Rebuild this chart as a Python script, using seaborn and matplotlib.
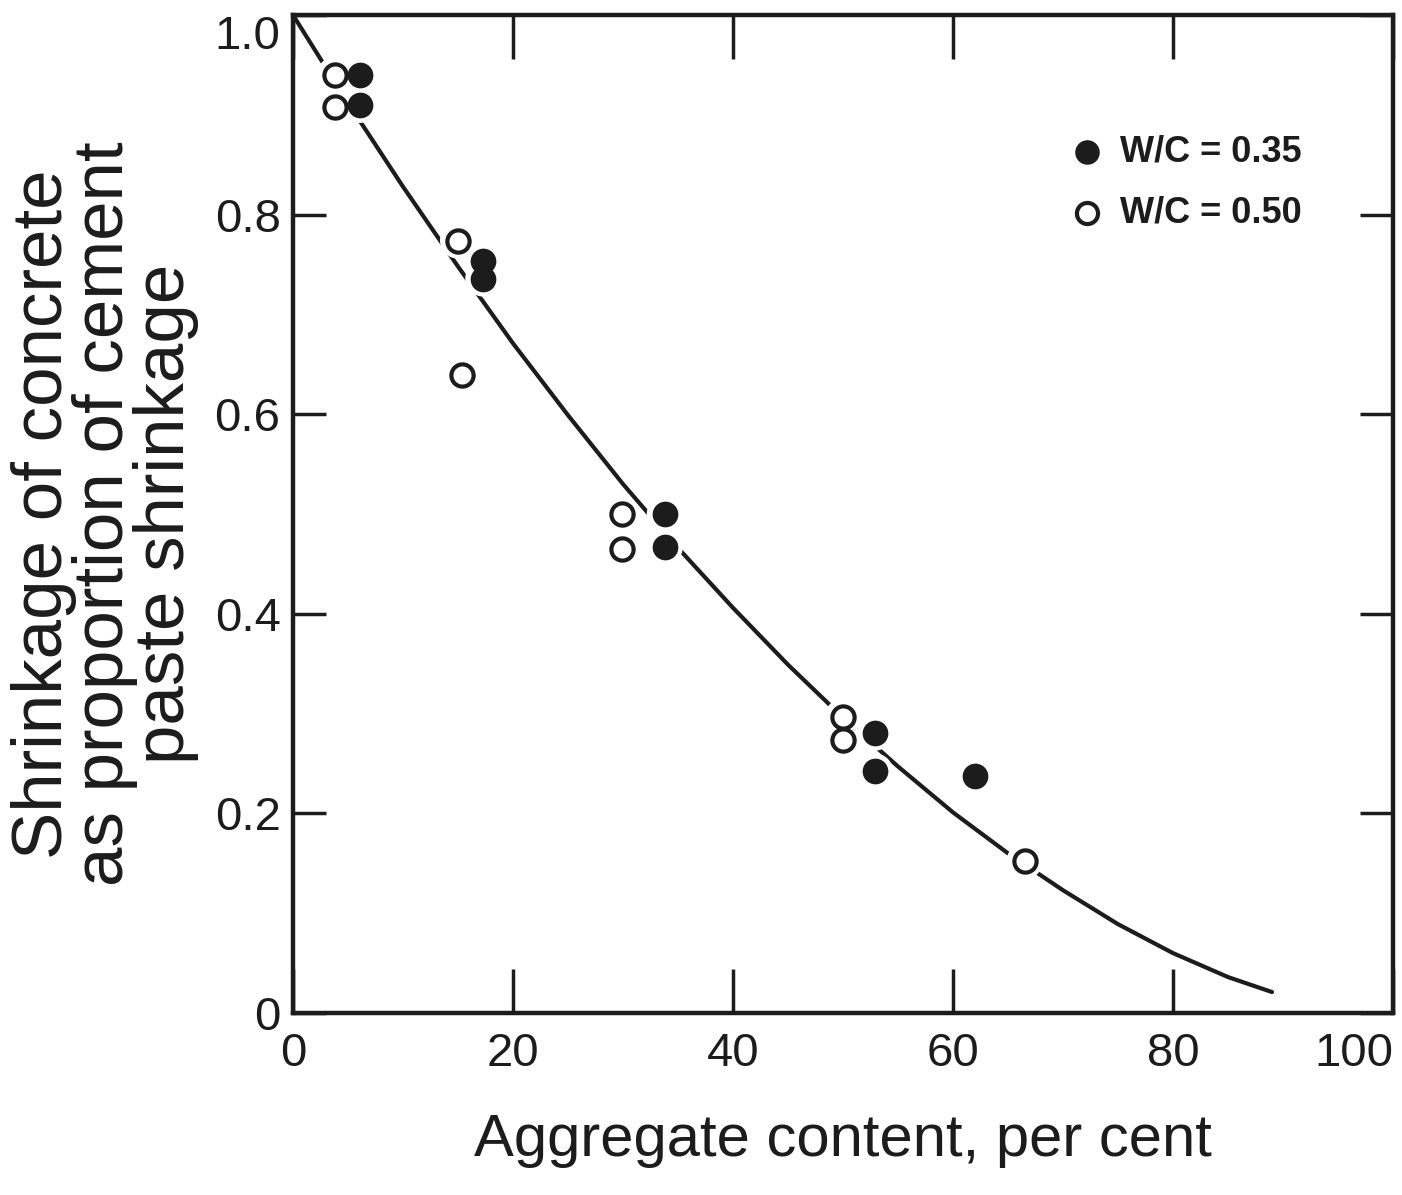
import matplotlib
matplotlib.use("Agg")
import matplotlib.pyplot as plt
import seaborn as sns
import pandas as pd

# ---------------- data ----------------
wc035_x = [6.1, 6.1, 17.3, 17.3, 33.8, 33.8, 52.9, 52.9, 62.0]
wc035_y = [0.940, 0.910, 0.754, 0.736, 0.500, 0.467, 0.281, 0.242, 0.237]
wc050_x = [3.8, 3.8, 15.0, 15.4, 29.9, 29.9, 50.0, 50.0, 66.5]
wc050_y = [0.940, 0.908, 0.774, 0.639, 0.500, 0.465, 0.297, 0.274, 0.152]

curve_x = [0, 5, 10, 15, 20, 25, 30, 35, 40, 45, 50, 55, 60, 65, 70, 75, 80, 85, 89]
curve_y = [1.0, 0.912, 0.828, 0.748, 0.671, 0.599, 0.530, 0.466, 0.406, 0.349,
           0.296, 0.247, 0.201, 0.160, 0.123, 0.089, 0.060, 0.036, 0.021]

x_ticks = [0, 20, 40, 60, 80, 100]
x_ticklabels = ["0", "20", "40", "60", "80", "100"]
y_ticks = [0, 0.2, 0.4, 0.6, 0.8, 1.0]
y_ticklabels = ["0", "0.2", "0.4", "0.6", "0.8", "1.0"]

legend_labels = ["W/C = 0.35", "W/C = 0.50"]
x_label = "Aggregate content, per cent"
y_label = "Shrinkage of concrete\nas proportion of cement\npaste shrinkage"

# ---------------- style ----------------
sns.set_theme(style="ticks")
plt.rcParams["font.family"] = ["Liberation Sans", "DejaVu Sans"]
ink = "#1c1c1c"

df035 = pd.DataFrame({"x": wc035_x, "y": wc035_y})
df050 = pd.DataFrame({"x": wc050_x, "y": wc050_y})
dfc = pd.DataFrame({"x": curve_x, "y": curve_y})

fig = plt.figure(figsize=(14.02, 11.95), dpi=100)
ax = fig.add_axes([0.2090, 0.1523, 0.7846, 0.8351])

sns.lineplot(data=dfc, x="x", y="y", ax=ax, color=ink, lw=3.0, sort=False, zorder=2)

# white halos that break the curve around the symbols
for d in (df035, df050):
    sns.scatterplot(data=d, x="x", y="y", ax=ax, s=26 ** 2, color="white",
                    edgecolor="none", linewidth=0, zorder=3, legend=False)

sns.scatterplot(data=df035, x="x", y="y", ax=ax, s=17 ** 2, color=ink,
                edgecolor=ink, linewidth=1.5, zorder=4, label=legend_labels[0])
sns.scatterplot(data=df050, x="x", y="y", ax=ax, s=16 ** 2, facecolor="white",
                edgecolor=ink, linewidth=3.0, zorder=5, label=legend_labels[1])

ax.set_xlim(0, 100)
ax.set_ylim(0, 1.0)
ax.set_xticks(x_ticks)
ax.set_xticklabels(x_ticklabels)
ax.set_yticks(y_ticks)
ax.set_yticklabels(y_ticklabels)

for s in ax.spines.values():
    s.set_visible(True)
    s.set_linewidth(3.2)
    s.set_color(ink)

ax.tick_params(axis="x", which="both", direction="in", top=True, bottom=True,
               length=32, width=2.5, color=ink, pad=14, labelsize=34,
               labelcolor=ink)
ax.tick_params(axis="y", which="both", direction="in", left=True, right=True,
               length=24, width=2.5, color=ink, pad=9, labelsize=34,
               labelcolor=ink)
ax.get_xticklabels()[-1].set_horizontalalignment("right")
ax.get_yticklabels()[-1].set_verticalalignment("top")

ax.set_xlabel(x_label, fontsize=43, color=ink, labelpad=26)
ax.set_ylabel(y_label, fontsize=51, color=ink, linespacing=0.9, ha="center",
              va="center")
ax.yaxis.set_label_coords(-0.171, 0.5)

leg = ax.legend(loc="upper left", bbox_to_anchor=(0.689, 0.898), frameon=False,
                handletextpad=0.4, labelspacing=0.7, borderpad=0, handlelength=1.0,
                markerscale=0.95,
                prop={"family": ["Liberation Sans"], "weight": "bold", "size": 26})
for t in leg.get_texts():
    t.set_color(ink)

fig.savefig("out.png", dpi=100, facecolor="white")
